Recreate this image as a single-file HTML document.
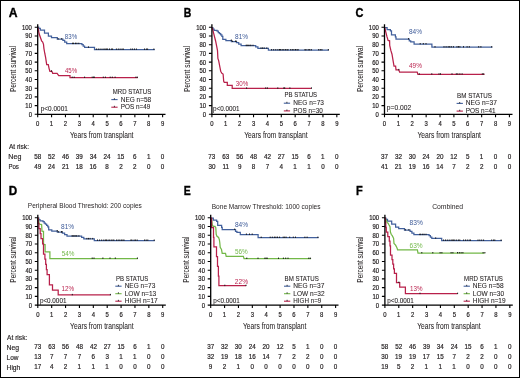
<!DOCTYPE html>
<html><head><meta charset="utf-8"><style>
html,body{margin:0;padding:0;background:#fff;width:520px;height:378px;overflow:hidden}
svg{display:block;will-change:transform}
text{font-family:"Liberation Sans", sans-serif}
</style></head><body>
<svg width="520" height="378" viewBox="0 0 520 378" font-family="Liberation Sans, sans-serif" fill="#231f20">
<rect x="0" y="0" width="520" height="378" fill="#fff"/>
<g>
<path d="M37.70,27.20 L38.70,27.20 L38.70,28.40 L40.30,28.40 L40.30,30.10 L44.50,30.10 L44.50,33.00 L48.40,33.00 L48.40,36.10 L51.50,36.10 L51.50,37.60 L57.30,37.60 L57.30,39.10 L62.90,39.10 L62.90,40.40 L64.70,40.40 L64.70,42.20 L66.70,42.20 L66.70,43.70 L81.90,43.70 L81.90,44.60 L83.20,44.60 L83.20,46.00 L84.60,46.00 L84.60,47.40 L94.50,47.40 L94.50,49.50 L154.80,49.50" fill="none" stroke="#42609c" stroke-width="1.25"/>
<path d="M58.10,38.10V39.50 M61.70,38.10V39.50 M72.60,42.70V44.10 M73.60,42.70V44.10 M75.50,42.70V44.10 M76.90,42.70V44.10 M78.80,42.70V44.10 M88.50,46.40V47.80 M96.40,48.50V49.90 M98.30,48.50V49.90 M100.10,48.50V49.90 M102.00,48.50V49.90 M103.90,48.50V49.90 M105.10,48.50V49.90 M106.40,48.50V49.90 M107.60,48.50V49.90 M109.50,48.50V49.90 M111.40,48.50V49.90 M112.60,48.50V49.90 M116.40,48.50V49.90 M118.30,48.50V49.90 M120.10,48.50V49.90 M122.00,48.50V49.90 M123.30,48.50V49.90 M130.80,48.50V49.90 M132.60,48.50V49.90 M134.50,48.50V49.90 M136.40,48.50V49.90 M144.50,48.50V49.90 M146.40,48.50V49.90 M147.60,48.50V49.90 M153.90,48.50V49.90" stroke="#1a1a1a" stroke-width="1.0" fill="none"/>
<path d="M37.70,27.70 L38.00,28.10 L39.20,34.00 L41.60,40.80 L42.70,42.00 L43.50,44.30 L43.90,48.30 L44.80,53.50 L45.60,57.40 L46.70,64.60 L48.30,64.60 L49.10,68.60 L49.90,71.30 L51.90,71.30 L52.70,73.30 L57.10,73.30 L58.70,75.50 L70.00,75.50 L70.00,77.60 L137.80,77.60" fill="none" stroke="#b8204a" stroke-width="1.25"/>
<path d="M51.50,70.30V71.70 M72.20,76.60V78.00 M74.20,76.60V78.00 M84.60,76.60V78.00 M92.20,76.60V78.00 M93.60,76.60V78.00 M94.30,76.60V78.00 M103.30,76.60V78.00 M105.40,76.60V78.00 M110.20,76.60V78.00 M112.30,76.60V78.00 M115.10,76.60V78.00 M135.90,76.60V78.00 M137.30,76.60V78.00" stroke="#1a1a1a" stroke-width="1.0" fill="none"/>
<path d="M111.30,99.60H117.60" stroke="#42609c" stroke-width="1.1"/>
<path d="M114.40,98.20V99.60" stroke="#111" stroke-width="0.8"/>
<path d="M111.30,107.20H117.60" stroke="#b8204a" stroke-width="1.1"/>
<path d="M114.40,105.80V107.20" stroke="#111" stroke-width="0.8"/>
<path d="M211.90,27.70 L212.90,27.70 L212.90,29.20 L214.10,29.20 L214.10,30.30 L217.10,30.30 L217.10,31.10 L218.30,31.10 L218.30,32.50 L219.50,32.50 L219.50,33.70 L220.70,33.70 L220.70,34.90 L221.90,34.90 L221.90,36.30 L222.80,36.30 L222.80,39.30 L225.90,39.30 L225.90,40.50 L231.40,40.50 L231.40,41.60 L236.50,41.60 L236.50,42.70 L238.70,42.70 L238.70,44.20 L241.10,44.20 L241.10,45.70 L255.70,45.70 L255.70,46.80 L257.90,46.80 L257.90,48.40 L268.40,48.40 L268.40,50.00 L328.90,50.00" fill="none" stroke="#42609c" stroke-width="1.25"/>
<path d="M231.30,39.50V40.90 M232.40,40.60V42.00 M235.60,40.60V42.00 M236.10,40.60V42.00 M246.20,44.70V46.10 M247.20,44.70V46.10 M248.30,44.70V46.10 M249.90,44.70V46.10 M250.90,44.70V46.10 M253.00,44.70V46.10 M261.00,47.40V48.80 M262.60,47.40V48.80 M264.20,47.40V48.80 M266.80,47.40V48.80 M271.60,49.00V50.40 M273.70,49.00V50.40 M275.80,49.00V50.40 M277.90,49.00V50.40 M279.50,49.00V50.40 M280.60,49.00V50.40 M282.20,49.00V50.40 M283.80,49.00V50.40 M285.40,49.00V50.40 M287.00,49.00V50.40 M288.00,49.00V50.40 M290.70,49.00V50.40 M292.30,49.00V50.40 M293.90,49.00V50.40 M295.50,49.00V50.40 M297.00,49.00V50.40 M298.10,49.00V50.40 M305.00,49.00V50.40 M306.00,49.00V50.40 M308.20,49.00V50.40 M309.70,49.00V50.40 M311.30,49.00V50.40 M318.70,49.00V50.40 M320.30,49.00V50.40 M321.90,49.00V50.40 M328.30,49.00V50.40" stroke="#1a1a1a" stroke-width="1.0" fill="none"/>
<path d="M211.90,27.70 L212.40,28.10 L213.60,33.20 L215.60,41.00 L216.70,46.40 L217.50,50.60 L217.90,58.50 L218.70,60.90 L219.90,67.20 L220.70,71.20 L221.90,73.20 L223.10,74.00 L223.70,81.30 L224.30,82.40 L227.30,82.40 L227.30,85.40 L232.20,85.40 L232.20,88.40 L311.00,88.40" fill="none" stroke="#b8204a" stroke-width="1.25"/>
<path d="M246.60,87.40V88.80 M265.70,87.40V88.80 M267.40,87.40V88.80 M277.80,87.40V88.80 M283.80,87.40V88.80 M284.70,87.40V88.80 M289.90,87.40V88.80 M311.50,87.40V88.80" stroke="#1a1a1a" stroke-width="1.0" fill="none"/>
<path d="M283.80,103.20H290.10" stroke="#42609c" stroke-width="1.1"/>
<path d="M286.90,101.80V103.20" stroke="#111" stroke-width="0.8"/>
<path d="M283.80,110.90H290.10" stroke="#b8204a" stroke-width="1.1"/>
<path d="M286.90,109.50V110.90" stroke="#111" stroke-width="0.8"/>
<path d="M384.50,27.70 L387.10,27.70 L387.10,29.70 L390.40,29.70 L390.40,30.80 L391.50,30.80 L391.50,34.80 L395.40,34.80 L395.40,36.80 L396.00,36.80 L396.00,39.10 L409.30,39.10 L409.30,40.80 L410.70,40.80 L410.70,41.80 L414.10,41.80 L414.10,44.00 L431.90,44.00 L431.90,47.10 L492.40,47.10" fill="none" stroke="#42609c" stroke-width="1.25"/>
<path d="M408.50,38.10V39.50 M420.20,43.00V44.40 M423.30,43.00V44.40 M426.00,43.00V44.40 M435.00,46.10V47.50 M444.00,46.10V47.50 M446.10,46.10V47.50 M448.20,46.10V47.50 M449.70,46.10V47.50 M451.30,46.10V47.50 M453.40,46.10V47.50 M457.00,46.10V47.50 M458.50,46.10V47.50 M459.90,46.10V47.50 M463.50,46.10V47.50 M467.10,46.10V47.50 M469.30,46.10V47.50 M478.70,46.10V47.50 M480.90,46.10V47.50 M491.70,46.10V47.50" stroke="#1a1a1a" stroke-width="1.0" fill="none"/>
<path d="M384.50,27.70 L384.90,28.10 L385.70,31.60 L386.90,36.40 L388.10,40.40 L389.60,40.80 L389.70,45.50 L390.90,50.70 L392.00,54.20 L393.20,61.40 L394.00,66.00 L395.60,66.00 L396.00,69.90 L398.80,69.90 L399.60,72.10 L417.20,72.10 L417.90,74.30 L484.50,74.30" fill="none" stroke="#b8204a" stroke-width="1.25"/>
<path d="M398.80,68.90V70.30 M419.30,73.30V74.70 M431.80,73.30V74.70 M439.00,73.30V74.70 M440.50,73.30V74.70 M452.00,73.30V74.70 M456.30,73.30V74.70 M457.80,73.30V74.70 M459.90,73.30V74.70 M462.10,73.30V74.70 M482.30,73.30V74.70 M483.70,73.30V74.70" stroke="#1a1a1a" stroke-width="1.0" fill="none"/>
<path d="M456.60,103.40H462.90" stroke="#42609c" stroke-width="1.1"/>
<path d="M459.70,102.00V103.40" stroke="#111" stroke-width="0.8"/>
<path d="M456.60,111.10H462.90" stroke="#b8204a" stroke-width="1.1"/>
<path d="M459.70,109.70V111.10" stroke="#111" stroke-width="0.8"/>
<path d="M37.80,218.20 L38.80,218.20 L38.80,219.70 L40.00,219.70 L40.00,220.80 L43.00,220.80 L43.00,221.60 L44.20,221.60 L44.20,223.00 L45.40,223.00 L45.40,224.20 L46.60,224.20 L46.60,225.40 L47.80,225.40 L47.80,226.80 L48.70,226.80 L48.70,229.80 L51.80,229.80 L51.80,231.00 L57.30,231.00 L57.30,232.10 L62.40,232.10 L62.40,233.20 L64.60,233.20 L64.60,234.70 L67.00,234.70 L67.00,236.20 L81.60,236.20 L81.60,237.30 L83.80,237.30 L83.80,238.90 L94.30,238.90 L94.30,240.50 L154.80,240.50" fill="none" stroke="#42609c" stroke-width="1.25"/>
<path d="M57.20,230.00V231.40 M58.30,231.10V232.50 M61.50,231.10V232.50 M62.00,231.10V232.50 M72.10,235.20V236.60 M73.10,235.20V236.60 M74.20,235.20V236.60 M75.80,235.20V236.60 M76.80,235.20V236.60 M78.90,235.20V236.60 M86.90,237.90V239.30 M88.50,237.90V239.30 M90.10,237.90V239.30 M92.70,237.90V239.30 M97.50,239.50V240.90 M99.60,239.50V240.90 M101.70,239.50V240.90 M103.80,239.50V240.90 M105.40,239.50V240.90 M106.50,239.50V240.90 M108.10,239.50V240.90 M109.70,239.50V240.90 M111.30,239.50V240.90 M112.90,239.50V240.90 M113.90,239.50V240.90 M116.60,239.50V240.90 M118.20,239.50V240.90 M119.80,239.50V240.90 M121.40,239.50V240.90 M122.90,239.50V240.90 M124.00,239.50V240.90 M130.90,239.50V240.90 M131.90,239.50V240.90 M134.10,239.50V240.90 M135.60,239.50V240.90 M137.20,239.50V240.90 M144.60,239.50V240.90 M146.20,239.50V240.90 M147.80,239.50V240.90 M154.20,239.50V240.90" stroke="#1a1a1a" stroke-width="1.0" fill="none"/>
<path d="M37.80,218.20 L38.10,219.30 L38.40,219.30 L39.20,224.00 L41.60,224.60 L42.00,231.20 L43.50,231.40 L43.50,244.50 L45.10,244.50 L45.10,251.80 L49.90,251.80 L49.90,258.50 L137.70,258.50" fill="none" stroke="#72b847" stroke-width="1.25"/>
<path d="M92.20,257.50V258.90 M94.00,257.50V258.90 M102.90,257.50V258.90 M110.00,257.50V258.90 M115.30,257.50V258.90 M137.40,257.50V258.90" stroke="#1a1a1a" stroke-width="1.0" fill="none"/>
<path d="M37.80,218.20 L38.20,218.20 L38.20,223.30 L38.90,223.30 L38.90,228.50 L40.20,228.50 L40.20,233.60 L41.00,233.60 L41.00,238.70 L42.60,238.70 L42.60,243.90 L43.50,243.90 L43.50,254.10 L44.90,254.10 L44.90,259.20 L45.70,259.20 L45.70,264.40 L46.40,264.40 L46.40,269.50 L47.10,269.50 L47.10,274.60 L49.40,274.60 L49.40,284.90 L52.50,284.90 L52.50,290.00 L58.20,290.00 L58.20,294.90 L110.50,294.90" fill="none" stroke="#b8204a" stroke-width="1.25"/>
<path d="M72.30,293.90V295.30 M110.40,293.90V295.30" stroke="#1a1a1a" stroke-width="1.0" fill="none"/>
<path d="M115.30,286.20H121.60" stroke="#42609c" stroke-width="1.1"/>
<path d="M118.40,284.80V286.20" stroke="#111" stroke-width="0.8"/>
<path d="M115.30,293.70H121.60" stroke="#72b847" stroke-width="1.1"/>
<path d="M118.40,292.30V293.70" stroke="#111" stroke-width="0.8"/>
<path d="M115.30,301.20H121.60" stroke="#b8204a" stroke-width="1.1"/>
<path d="M118.40,299.80V301.20" stroke="#111" stroke-width="0.8"/>
<path d="M210.70,218.20 L213.30,218.20 L213.30,220.20 L216.60,220.20 L216.60,221.30 L217.70,221.30 L217.70,225.30 L221.60,225.30 L221.60,227.30 L222.20,227.30 L222.20,229.60 L235.50,229.60 L235.50,231.30 L236.90,231.30 L236.90,232.30 L240.30,232.30 L240.30,234.50 L258.10,234.50 L258.10,237.60 L318.60,237.60" fill="none" stroke="#42609c" stroke-width="1.25"/>
<path d="M234.70,228.60V230.00 M246.40,233.50V234.90 M249.50,233.50V234.90 M252.20,233.50V234.90 M261.20,236.60V238.00 M270.20,236.60V238.00 M272.30,236.60V238.00 M274.40,236.60V238.00 M275.90,236.60V238.00 M277.50,236.60V238.00 M279.60,236.60V238.00 M283.20,236.60V238.00 M284.70,236.60V238.00 M286.10,236.60V238.00 M289.70,236.60V238.00 M293.30,236.60V238.00 M295.50,236.60V238.00 M304.90,236.60V238.00 M307.10,236.60V238.00 M317.90,236.60V238.00" stroke="#1a1a1a" stroke-width="1.0" fill="none"/>
<path d="M210.70,218.20 L211.50,218.90 L211.90,221.60 L212.30,224.80 L213.10,226.40 L215.00,226.40 L215.80,227.60 L216.20,234.30 L217.00,236.30 L218.60,237.50 L219.40,239.90 L219.80,242.70 L220.20,247.40 L221.50,249.40 L222.20,253.30 L225.50,253.30 L226.20,256.40 L243.40,256.40 L244.00,258.60 L311.10,258.60" fill="none" stroke="#72b847" stroke-width="1.25"/>
<path d="M246.80,257.60V259.00 M258.00,257.60V259.00 M264.90,257.60V259.00 M266.10,257.60V259.00 M267.20,257.60V259.00 M278.50,257.60V259.00 M283.40,257.60V259.00 M285.70,257.60V259.00 M288.00,257.60V259.00 M308.80,257.60V259.00 M310.30,257.60V259.00" stroke="#1a1a1a" stroke-width="1.0" fill="none"/>
<path d="M210.70,218.20 L211.60,218.20 L211.60,227.60 L213.50,227.60 L213.50,237.40 L213.90,237.40 L213.90,246.80 L216.50,246.80 L216.50,256.60 L217.50,256.60 L217.50,266.40 L218.40,266.40 L218.40,276.20 L218.90,276.20 L218.90,285.70 L246.00,285.70" fill="none" stroke="#b8204a" stroke-width="1.25"/>
<path d="M224.80,284.70V286.10 M246.00,284.70V286.10" stroke="#1a1a1a" stroke-width="1.0" fill="none"/>
<path d="M284.00,286.20H290.30" stroke="#42609c" stroke-width="1.1"/>
<path d="M287.10,284.80V286.20" stroke="#111" stroke-width="0.8"/>
<path d="M284.00,293.70H290.30" stroke="#72b847" stroke-width="1.1"/>
<path d="M287.10,292.30V293.70" stroke="#111" stroke-width="0.8"/>
<path d="M284.00,301.20H290.30" stroke="#b8204a" stroke-width="1.1"/>
<path d="M287.10,299.80V301.20" stroke="#111" stroke-width="0.8"/>
<path d="M384.90,218.20 L385.90,218.20 L385.90,219.40 L387.50,219.40 L387.50,221.10 L391.70,221.10 L391.70,224.00 L395.60,224.00 L395.60,227.10 L398.70,227.10 L398.70,228.60 L404.50,228.60 L404.50,230.10 L410.10,230.10 L410.10,231.40 L411.90,231.40 L411.90,233.20 L413.90,233.20 L413.90,234.70 L429.10,234.70 L429.10,235.60 L430.40,235.60 L430.40,237.00 L431.80,237.00 L431.80,238.40 L441.70,238.40 L441.70,240.50 L502.00,240.50" fill="none" stroke="#42609c" stroke-width="1.25"/>
<path d="M405.30,229.10V230.50 M408.90,229.10V230.50 M419.80,233.70V235.10 M420.80,233.70V235.10 M422.70,233.70V235.10 M424.10,233.70V235.10 M426.00,233.70V235.10 M435.70,237.40V238.80 M443.60,239.50V240.90 M445.50,239.50V240.90 M447.30,239.50V240.90 M449.20,239.50V240.90 M451.10,239.50V240.90 M452.30,239.50V240.90 M453.60,239.50V240.90 M454.80,239.50V240.90 M456.70,239.50V240.90 M458.60,239.50V240.90 M459.80,239.50V240.90 M463.60,239.50V240.90 M465.50,239.50V240.90 M467.30,239.50V240.90 M469.20,239.50V240.90 M470.50,239.50V240.90 M478.00,239.50V240.90 M479.80,239.50V240.90 M481.70,239.50V240.90 M483.60,239.50V240.90 M491.70,239.50V240.90 M493.60,239.50V240.90 M494.80,239.50V240.90 M501.10,239.50V240.90" stroke="#1a1a1a" stroke-width="1.0" fill="none"/>
<path d="M384.90,218.20 L385.70,219.30 L386.50,220.90 L387.30,222.80 L388.10,223.20 L388.90,224.80 L390.00,226.80 L390.40,232.00 L391.20,234.30 L392.40,235.90 L393.60,238.30 L394.00,243.50 L395.60,245.10 L396.80,247.40 L397.60,249.80 L417.40,249.80 L418.00,253.00 L484.50,253.00" fill="none" stroke="#72b847" stroke-width="1.25"/>
<path d="M421.80,252.00V253.40 M432.80,252.00V253.40 M440.10,252.00V253.40 M441.90,252.00V253.40 M451.10,252.00V253.40 M452.90,252.00V253.40 M457.50,252.00V253.40 M459.30,252.00V253.40 M461.10,252.00V253.40 M462.90,252.00V253.40 M483.10,252.00V253.40 M484.90,252.00V253.40" stroke="#1a1a1a" stroke-width="1.0" fill="none"/>
<path d="M384.90,218.20 L385.40,218.20 L385.40,222.80 L385.80,222.80 L385.80,227.40 L386.30,227.40 L386.30,232.00 L387.80,232.00 L387.80,236.60 L389.30,236.60 L389.30,241.20 L390.00,241.20 L390.00,245.80 L390.50,245.80 L390.50,255.00 L392.00,255.00 L392.00,259.60 L392.80,259.60 L392.80,264.20 L393.60,264.20 L393.60,268.80 L394.40,268.80 L394.40,273.40 L396.50,273.40 L396.50,282.60 L399.70,282.60 L399.70,287.20 L405.40,287.20 L405.40,293.70 L457.30,293.70" fill="none" stroke="#b8204a" stroke-width="1.25"/>
<path d="M398.90,281.60V283.00 M420.00,292.70V294.10 M457.60,292.70V294.10" stroke="#1a1a1a" stroke-width="1.0" fill="none"/>
<path d="M463.60,286.20H469.90" stroke="#42609c" stroke-width="1.1"/>
<path d="M466.70,284.80V286.20" stroke="#111" stroke-width="0.8"/>
<path d="M463.60,293.70H469.90" stroke="#72b847" stroke-width="1.1"/>
<path d="M466.70,292.30V293.70" stroke="#111" stroke-width="0.8"/>
<path d="M463.60,301.20H469.90" stroke="#b8204a" stroke-width="1.1"/>
<path d="M466.70,299.80V301.20" stroke="#111" stroke-width="0.8"/>
</g>
<path d="M37.70,24.30V114.30H165.50" fill="none" stroke="#000" stroke-width="1.3"/>
<path d="M34.70,114.30H37.70 M34.70,105.60H37.70 M34.70,96.90H37.70 M34.70,88.20H37.70 M34.70,79.50H37.70 M34.70,70.80H37.70 M34.70,62.10H37.70 M34.70,53.40H37.70 M34.70,44.70H37.70 M34.70,36.00H37.70 M34.70,27.30H37.70 M37.70,114.30V117.30 M51.58,114.30V117.30 M65.46,114.30V117.30 M79.34,114.30V117.30 M93.22,114.30V117.30 M107.10,114.30V117.30 M120.98,114.30V117.30 M134.86,114.30V117.30 M148.74,114.30V117.30 M162.62,114.30V117.30" stroke="#000" stroke-width="1.1" fill="none"/>
<path d="M211.90,24.30V114.30H339.80" fill="none" stroke="#000" stroke-width="1.3"/>
<path d="M208.90,114.30H211.90 M208.90,105.60H211.90 M208.90,96.90H211.90 M208.90,88.20H211.90 M208.90,79.50H211.90 M208.90,70.80H211.90 M208.90,62.10H211.90 M208.90,53.40H211.90 M208.90,44.70H211.90 M208.90,36.00H211.90 M208.90,27.30H211.90 M211.90,114.30V117.30 M225.78,114.30V117.30 M239.66,114.30V117.30 M253.54,114.30V117.30 M267.42,114.30V117.30 M281.30,114.30V117.30 M295.18,114.30V117.30 M309.06,114.30V117.30 M322.94,114.30V117.30 M336.82,114.30V117.30" stroke="#000" stroke-width="1.1" fill="none"/>
<path d="M384.50,24.30V114.30H512.50" fill="none" stroke="#000" stroke-width="1.3"/>
<path d="M381.50,114.30H384.50 M381.50,105.60H384.50 M381.50,96.90H384.50 M381.50,88.20H384.50 M381.50,79.50H384.50 M381.50,70.80H384.50 M381.50,62.10H384.50 M381.50,53.40H384.50 M381.50,44.70H384.50 M381.50,36.00H384.50 M381.50,27.30H384.50 M384.50,114.30V117.30 M398.38,114.30V117.30 M412.26,114.30V117.30 M426.14,114.30V117.30 M440.02,114.30V117.30 M453.90,114.30V117.30 M467.78,114.30V117.30 M481.66,114.30V117.30 M495.54,114.30V117.30 M509.42,114.30V117.30" stroke="#000" stroke-width="1.1" fill="none"/>
<path d="M37.80,214.80V305.10H165.80" fill="none" stroke="#000" stroke-width="1.3"/>
<path d="M34.80,305.10H37.80 M34.80,296.37H37.80 M34.80,287.64H37.80 M34.80,278.91H37.80 M34.80,270.18H37.80 M34.80,261.45H37.80 M34.80,252.72H37.80 M34.80,243.99H37.80 M34.80,235.26H37.80 M34.80,226.53H37.80 M34.80,217.80H37.80 M37.80,305.10V308.10 M51.68,305.10V308.10 M65.56,305.10V308.10 M79.44,305.10V308.10 M93.32,305.10V308.10 M107.20,305.10V308.10 M121.08,305.10V308.10 M134.96,305.10V308.10 M148.84,305.10V308.10 M162.72,305.10V308.10" stroke="#000" stroke-width="1.1" fill="none"/>
<path d="M210.70,214.80V305.10H338.50" fill="none" stroke="#000" stroke-width="1.3"/>
<path d="M207.70,305.10H210.70 M207.70,296.37H210.70 M207.70,287.64H210.70 M207.70,278.91H210.70 M207.70,270.18H210.70 M207.70,261.45H210.70 M207.70,252.72H210.70 M207.70,243.99H210.70 M207.70,235.26H210.70 M207.70,226.53H210.70 M207.70,217.80H210.70 M210.70,305.10V308.10 M224.58,305.10V308.10 M238.46,305.10V308.10 M252.34,305.10V308.10 M266.22,305.10V308.10 M280.10,305.10V308.10 M293.98,305.10V308.10 M307.86,305.10V308.10 M321.74,305.10V308.10 M335.62,305.10V308.10" stroke="#000" stroke-width="1.1" fill="none"/>
<path d="M384.90,214.80V305.10H512.80" fill="none" stroke="#000" stroke-width="1.3"/>
<path d="M381.90,305.10H384.90 M381.90,296.37H384.90 M381.90,287.64H384.90 M381.90,278.91H384.90 M381.90,270.18H384.90 M381.90,261.45H384.90 M381.90,252.72H384.90 M381.90,243.99H384.90 M381.90,235.26H384.90 M381.90,226.53H384.90 M381.90,217.80H384.90 M384.90,305.10V308.10 M398.78,305.10V308.10 M412.66,305.10V308.10 M426.54,305.10V308.10 M440.42,305.10V308.10 M454.30,305.10V308.10 M468.18,305.10V308.10 M482.06,305.10V308.10 M495.94,305.10V308.10 M509.82,305.10V308.10" stroke="#000" stroke-width="1.1" fill="none"/>
<text x="28.63" y="116.70" font-size="6.9" fill="#231f20" stroke="#231f20" stroke-width="0.2" textLength="3.30" lengthAdjust="spacingAndGlyphs">0</text>
<text x="25.33" y="108.00" font-size="6.9" fill="#231f20" stroke="#231f20" stroke-width="0.2" textLength="6.60" lengthAdjust="spacingAndGlyphs">10</text>
<text x="25.33" y="99.30" font-size="6.9" fill="#231f20" stroke="#231f20" stroke-width="0.2" textLength="6.60" lengthAdjust="spacingAndGlyphs">20</text>
<text x="25.33" y="90.60" font-size="6.9" fill="#231f20" stroke="#231f20" stroke-width="0.2" textLength="6.60" lengthAdjust="spacingAndGlyphs">30</text>
<text x="25.33" y="81.90" font-size="6.9" fill="#231f20" stroke="#231f20" stroke-width="0.2" textLength="6.60" lengthAdjust="spacingAndGlyphs">40</text>
<text x="25.33" y="73.20" font-size="6.9" fill="#231f20" stroke="#231f20" stroke-width="0.2" textLength="6.60" lengthAdjust="spacingAndGlyphs">50</text>
<text x="25.33" y="64.50" font-size="6.9" fill="#231f20" stroke="#231f20" stroke-width="0.2" textLength="6.60" lengthAdjust="spacingAndGlyphs">60</text>
<text x="25.33" y="55.80" font-size="6.9" fill="#231f20" stroke="#231f20" stroke-width="0.2" textLength="6.60" lengthAdjust="spacingAndGlyphs">70</text>
<text x="25.33" y="47.10" font-size="6.9" fill="#231f20" stroke="#231f20" stroke-width="0.2" textLength="6.60" lengthAdjust="spacingAndGlyphs">80</text>
<text x="25.33" y="38.40" font-size="6.9" fill="#231f20" stroke="#231f20" stroke-width="0.2" textLength="6.60" lengthAdjust="spacingAndGlyphs">90</text>
<text x="22.03" y="29.70" font-size="6.9" fill="#231f20" stroke="#231f20" stroke-width="0.2" textLength="9.90" lengthAdjust="spacingAndGlyphs">100</text>
<text x="36.05" y="126.00" font-size="6.9" fill="#231f20" stroke="#231f20" stroke-width="0.2" textLength="3.30" lengthAdjust="spacingAndGlyphs">0</text>
<text x="49.85" y="126.00" font-size="6.9" fill="#231f20" stroke="#231f20" stroke-width="0.2" textLength="3.30" lengthAdjust="spacingAndGlyphs">1</text>
<text x="63.81" y="126.00" font-size="6.9" fill="#231f20" stroke="#231f20" stroke-width="0.2" textLength="3.30" lengthAdjust="spacingAndGlyphs">2</text>
<text x="77.71" y="126.00" font-size="6.9" fill="#231f20" stroke="#231f20" stroke-width="0.2" textLength="3.30" lengthAdjust="spacingAndGlyphs">3</text>
<text x="91.59" y="126.00" font-size="6.9" fill="#231f20" stroke="#231f20" stroke-width="0.2" textLength="3.30" lengthAdjust="spacingAndGlyphs">4</text>
<text x="105.45" y="126.00" font-size="6.9" fill="#231f20" stroke="#231f20" stroke-width="0.2" textLength="3.30" lengthAdjust="spacingAndGlyphs">5</text>
<text x="119.31" y="126.00" font-size="6.9" fill="#231f20" stroke="#231f20" stroke-width="0.2" textLength="3.30" lengthAdjust="spacingAndGlyphs">6</text>
<text x="133.21" y="126.00" font-size="6.9" fill="#231f20" stroke="#231f20" stroke-width="0.2" textLength="3.30" lengthAdjust="spacingAndGlyphs">7</text>
<text x="147.09" y="126.00" font-size="6.9" fill="#231f20" stroke="#231f20" stroke-width="0.2" textLength="3.30" lengthAdjust="spacingAndGlyphs">8</text>
<text x="160.97" y="126.00" font-size="6.9" fill="#231f20" stroke="#231f20" stroke-width="0.2" textLength="3.30" lengthAdjust="spacingAndGlyphs">9</text>
<text x="70.00" y="137.80" font-size="8.6" fill="#231f20" stroke="#231f20" stroke-width="0.05" textLength="63.49" lengthAdjust="spacingAndGlyphs">Years from transplant</text>
<text transform="translate(15.90,92.03) rotate(-90)" font-size="9.0" stroke="#231f20" stroke-width="0.05" textLength="46.16" lengthAdjust="spacingAndGlyphs">Percent survival</text>
<text x="64.84" y="38.80" font-size="6.8" fill="#3d5a98" textLength="12.28" lengthAdjust="spacingAndGlyphs">83%</text>
<text x="64.97" y="72.90" font-size="6.8" fill="#bb2550" textLength="12.15" lengthAdjust="spacingAndGlyphs">45%</text>
<text x="40.79" y="110.80" font-size="6.6" fill="#231f20" stroke="#231f20" stroke-width="0.08" textLength="27.02" lengthAdjust="spacingAndGlyphs">p&lt;0.0001</text>
<text x="112.80" y="93.90" font-size="6.9" fill="#231f20" stroke="#231f20" stroke-width="0.08" textLength="38.36" lengthAdjust="spacingAndGlyphs">MRD STATUS</text>
<text x="120.77" y="101.50" font-size="6.9" fill="#231f20" stroke="#231f20" stroke-width="0.08" textLength="30.41" lengthAdjust="spacingAndGlyphs">NEG n=58</text>
<text x="120.78" y="109.10" font-size="6.9" fill="#231f20" stroke="#231f20" stroke-width="0.08" textLength="29.42" lengthAdjust="spacingAndGlyphs">POS n=49</text>
<text x="8.71" y="17.00" font-size="12" fill="#000" stroke="#000" stroke-width="0.35" font-weight="bold" textLength="8.81" lengthAdjust="spacingAndGlyphs">A</text>
<text x="202.83" y="116.70" font-size="6.9" fill="#231f20" stroke="#231f20" stroke-width="0.2" textLength="3.30" lengthAdjust="spacingAndGlyphs">0</text>
<text x="199.53" y="108.00" font-size="6.9" fill="#231f20" stroke="#231f20" stroke-width="0.2" textLength="6.60" lengthAdjust="spacingAndGlyphs">10</text>
<text x="199.53" y="99.30" font-size="6.9" fill="#231f20" stroke="#231f20" stroke-width="0.2" textLength="6.60" lengthAdjust="spacingAndGlyphs">20</text>
<text x="199.53" y="90.60" font-size="6.9" fill="#231f20" stroke="#231f20" stroke-width="0.2" textLength="6.60" lengthAdjust="spacingAndGlyphs">30</text>
<text x="199.53" y="81.90" font-size="6.9" fill="#231f20" stroke="#231f20" stroke-width="0.2" textLength="6.60" lengthAdjust="spacingAndGlyphs">40</text>
<text x="199.53" y="73.20" font-size="6.9" fill="#231f20" stroke="#231f20" stroke-width="0.2" textLength="6.60" lengthAdjust="spacingAndGlyphs">50</text>
<text x="199.53" y="64.50" font-size="6.9" fill="#231f20" stroke="#231f20" stroke-width="0.2" textLength="6.60" lengthAdjust="spacingAndGlyphs">60</text>
<text x="199.53" y="55.80" font-size="6.9" fill="#231f20" stroke="#231f20" stroke-width="0.2" textLength="6.60" lengthAdjust="spacingAndGlyphs">70</text>
<text x="199.53" y="47.10" font-size="6.9" fill="#231f20" stroke="#231f20" stroke-width="0.2" textLength="6.60" lengthAdjust="spacingAndGlyphs">80</text>
<text x="199.53" y="38.40" font-size="6.9" fill="#231f20" stroke="#231f20" stroke-width="0.2" textLength="6.60" lengthAdjust="spacingAndGlyphs">90</text>
<text x="196.23" y="29.70" font-size="6.9" fill="#231f20" stroke="#231f20" stroke-width="0.2" textLength="9.90" lengthAdjust="spacingAndGlyphs">100</text>
<text x="210.25" y="126.00" font-size="6.9" fill="#231f20" stroke="#231f20" stroke-width="0.2" textLength="3.30" lengthAdjust="spacingAndGlyphs">0</text>
<text x="224.05" y="126.00" font-size="6.9" fill="#231f20" stroke="#231f20" stroke-width="0.2" textLength="3.30" lengthAdjust="spacingAndGlyphs">1</text>
<text x="238.01" y="126.00" font-size="6.9" fill="#231f20" stroke="#231f20" stroke-width="0.2" textLength="3.30" lengthAdjust="spacingAndGlyphs">2</text>
<text x="251.91" y="126.00" font-size="6.9" fill="#231f20" stroke="#231f20" stroke-width="0.2" textLength="3.30" lengthAdjust="spacingAndGlyphs">3</text>
<text x="265.79" y="126.00" font-size="6.9" fill="#231f20" stroke="#231f20" stroke-width="0.2" textLength="3.30" lengthAdjust="spacingAndGlyphs">4</text>
<text x="279.65" y="126.00" font-size="6.9" fill="#231f20" stroke="#231f20" stroke-width="0.2" textLength="3.30" lengthAdjust="spacingAndGlyphs">5</text>
<text x="293.51" y="126.00" font-size="6.9" fill="#231f20" stroke="#231f20" stroke-width="0.2" textLength="3.30" lengthAdjust="spacingAndGlyphs">6</text>
<text x="307.41" y="126.00" font-size="6.9" fill="#231f20" stroke="#231f20" stroke-width="0.2" textLength="3.30" lengthAdjust="spacingAndGlyphs">7</text>
<text x="321.29" y="126.00" font-size="6.9" fill="#231f20" stroke="#231f20" stroke-width="0.2" textLength="3.30" lengthAdjust="spacingAndGlyphs">8</text>
<text x="335.17" y="126.00" font-size="6.9" fill="#231f20" stroke="#231f20" stroke-width="0.2" textLength="3.30" lengthAdjust="spacingAndGlyphs">9</text>
<text x="244.20" y="137.80" font-size="8.6" fill="#231f20" stroke="#231f20" stroke-width="0.05" textLength="63.49" lengthAdjust="spacingAndGlyphs">Years from transplant</text>
<text transform="translate(190.10,92.03) rotate(-90)" font-size="9.0" stroke="#231f20" stroke-width="0.05" textLength="46.16" lengthAdjust="spacingAndGlyphs">Percent survival</text>
<text x="235.02" y="39.40" font-size="7.0" fill="#3d5a98" textLength="13.01" lengthAdjust="spacingAndGlyphs">81%</text>
<text x="235.86" y="85.90" font-size="7.0" fill="#bb2550" textLength="12.46" lengthAdjust="spacingAndGlyphs">30%</text>
<text x="213.10" y="110.60" font-size="6.6" fill="#231f20" stroke="#231f20" stroke-width="0.08" textLength="26.51" lengthAdjust="spacingAndGlyphs">p&lt;0.0001</text>
<text x="284.61" y="97.40" font-size="6.9" fill="#231f20" stroke="#231f20" stroke-width="0.08" textLength="32.36" lengthAdjust="spacingAndGlyphs">PB STATUS</text>
<text x="293.27" y="105.10" font-size="6.9" fill="#231f20" stroke="#231f20" stroke-width="0.08" textLength="30.62" lengthAdjust="spacingAndGlyphs">NEG n=73</text>
<text x="293.28" y="112.80" font-size="6.9" fill="#231f20" stroke="#231f20" stroke-width="0.08" textLength="29.56" lengthAdjust="spacingAndGlyphs">POS n=30</text>
<text x="183.71" y="16.70" font-size="12" fill="#000" stroke="#000" stroke-width="0.35" font-weight="bold" textLength="7.56" lengthAdjust="spacingAndGlyphs">B</text>
<text x="375.43" y="116.70" font-size="6.9" fill="#231f20" stroke="#231f20" stroke-width="0.2" textLength="3.30" lengthAdjust="spacingAndGlyphs">0</text>
<text x="372.13" y="108.00" font-size="6.9" fill="#231f20" stroke="#231f20" stroke-width="0.2" textLength="6.60" lengthAdjust="spacingAndGlyphs">10</text>
<text x="372.13" y="99.30" font-size="6.9" fill="#231f20" stroke="#231f20" stroke-width="0.2" textLength="6.60" lengthAdjust="spacingAndGlyphs">20</text>
<text x="372.13" y="90.60" font-size="6.9" fill="#231f20" stroke="#231f20" stroke-width="0.2" textLength="6.60" lengthAdjust="spacingAndGlyphs">30</text>
<text x="372.13" y="81.90" font-size="6.9" fill="#231f20" stroke="#231f20" stroke-width="0.2" textLength="6.60" lengthAdjust="spacingAndGlyphs">40</text>
<text x="372.13" y="73.20" font-size="6.9" fill="#231f20" stroke="#231f20" stroke-width="0.2" textLength="6.60" lengthAdjust="spacingAndGlyphs">50</text>
<text x="372.13" y="64.50" font-size="6.9" fill="#231f20" stroke="#231f20" stroke-width="0.2" textLength="6.60" lengthAdjust="spacingAndGlyphs">60</text>
<text x="372.13" y="55.80" font-size="6.9" fill="#231f20" stroke="#231f20" stroke-width="0.2" textLength="6.60" lengthAdjust="spacingAndGlyphs">70</text>
<text x="372.13" y="47.10" font-size="6.9" fill="#231f20" stroke="#231f20" stroke-width="0.2" textLength="6.60" lengthAdjust="spacingAndGlyphs">80</text>
<text x="372.13" y="38.40" font-size="6.9" fill="#231f20" stroke="#231f20" stroke-width="0.2" textLength="6.60" lengthAdjust="spacingAndGlyphs">90</text>
<text x="368.83" y="29.70" font-size="6.9" fill="#231f20" stroke="#231f20" stroke-width="0.2" textLength="9.90" lengthAdjust="spacingAndGlyphs">100</text>
<text x="382.85" y="126.00" font-size="6.9" fill="#231f20" stroke="#231f20" stroke-width="0.2" textLength="3.30" lengthAdjust="spacingAndGlyphs">0</text>
<text x="396.65" y="126.00" font-size="6.9" fill="#231f20" stroke="#231f20" stroke-width="0.2" textLength="3.30" lengthAdjust="spacingAndGlyphs">1</text>
<text x="410.61" y="126.00" font-size="6.9" fill="#231f20" stroke="#231f20" stroke-width="0.2" textLength="3.30" lengthAdjust="spacingAndGlyphs">2</text>
<text x="424.51" y="126.00" font-size="6.9" fill="#231f20" stroke="#231f20" stroke-width="0.2" textLength="3.30" lengthAdjust="spacingAndGlyphs">3</text>
<text x="438.39" y="126.00" font-size="6.9" fill="#231f20" stroke="#231f20" stroke-width="0.2" textLength="3.30" lengthAdjust="spacingAndGlyphs">4</text>
<text x="452.25" y="126.00" font-size="6.9" fill="#231f20" stroke="#231f20" stroke-width="0.2" textLength="3.30" lengthAdjust="spacingAndGlyphs">5</text>
<text x="466.11" y="126.00" font-size="6.9" fill="#231f20" stroke="#231f20" stroke-width="0.2" textLength="3.30" lengthAdjust="spacingAndGlyphs">6</text>
<text x="480.01" y="126.00" font-size="6.9" fill="#231f20" stroke="#231f20" stroke-width="0.2" textLength="3.30" lengthAdjust="spacingAndGlyphs">7</text>
<text x="493.89" y="126.00" font-size="6.9" fill="#231f20" stroke="#231f20" stroke-width="0.2" textLength="3.30" lengthAdjust="spacingAndGlyphs">8</text>
<text x="507.77" y="126.00" font-size="6.9" fill="#231f20" stroke="#231f20" stroke-width="0.2" textLength="3.30" lengthAdjust="spacingAndGlyphs">9</text>
<text x="417.50" y="137.80" font-size="8.6" fill="#231f20" stroke="#231f20" stroke-width="0.05" textLength="63.49" lengthAdjust="spacingAndGlyphs">Years from transplant</text>
<text transform="translate(362.70,92.03) rotate(-90)" font-size="9.0" stroke="#231f20" stroke-width="0.05" textLength="46.16" lengthAdjust="spacingAndGlyphs">Percent survival</text>
<text x="408.92" y="33.80" font-size="6.8" fill="#3d5a98" textLength="13.01" lengthAdjust="spacingAndGlyphs">84%</text>
<text x="409.06" y="67.80" font-size="6.8" fill="#bb2550" textLength="12.87" lengthAdjust="spacingAndGlyphs">49%</text>
<text x="386.87" y="110.00" font-size="6.6" fill="#231f20" stroke="#231f20" stroke-width="0.08" textLength="24.37" lengthAdjust="spacingAndGlyphs">p=0.002</text>
<text x="457.09" y="97.60" font-size="6.9" fill="#231f20" stroke="#231f20" stroke-width="0.08" textLength="34.79" lengthAdjust="spacingAndGlyphs">BM STATUS</text>
<text x="465.76" y="105.30" font-size="6.9" fill="#231f20" stroke="#231f20" stroke-width="0.08" textLength="31.08" lengthAdjust="spacingAndGlyphs">NEG n=37</text>
<text x="465.77" y="113.00" font-size="6.9" fill="#231f20" stroke="#231f20" stroke-width="0.08" textLength="29.84" lengthAdjust="spacingAndGlyphs">POS n=41</text>
<text x="355.55" y="16.60" font-size="12" fill="#000" stroke="#000" stroke-width="0.35" font-weight="bold" textLength="7.95" lengthAdjust="spacingAndGlyphs">C</text>
<text x="8.89" y="148.60" font-size="7.0" fill="#231f20" stroke="#231f20" stroke-width="0.16" textLength="20.11" lengthAdjust="spacingAndGlyphs">At risk:</text>
<text x="8.32" y="158.50" font-size="7.0" fill="#231f20" stroke="#231f20" stroke-width="0.16" textLength="13.04" lengthAdjust="spacingAndGlyphs">Neg</text>
<text x="8.40" y="168.50" font-size="7.0" fill="#231f20" stroke="#231f20" stroke-width="0.16" textLength="10.52" lengthAdjust="spacingAndGlyphs">Pos</text>
<text x="34.21" y="158.50" font-size="7.0" fill="#231f20" stroke="#231f20" stroke-width="0.2" textLength="7.01" lengthAdjust="spacingAndGlyphs">58</text>
<text x="48.11" y="158.50" font-size="7.0" fill="#231f20" stroke="#231f20" stroke-width="0.2" textLength="7.01" lengthAdjust="spacingAndGlyphs">52</text>
<text x="62.02" y="158.50" font-size="7.0" fill="#231f20" stroke="#231f20" stroke-width="0.2" textLength="7.01" lengthAdjust="spacingAndGlyphs">46</text>
<text x="75.87" y="158.50" font-size="7.0" fill="#231f20" stroke="#231f20" stroke-width="0.2" textLength="7.01" lengthAdjust="spacingAndGlyphs">39</text>
<text x="89.69" y="158.50" font-size="7.0" fill="#231f20" stroke="#231f20" stroke-width="0.2" textLength="7.01" lengthAdjust="spacingAndGlyphs">34</text>
<text x="103.53" y="158.50" font-size="7.0" fill="#231f20" stroke="#231f20" stroke-width="0.2" textLength="7.01" lengthAdjust="spacingAndGlyphs">24</text>
<text x="117.37" y="158.50" font-size="7.0" fill="#231f20" stroke="#231f20" stroke-width="0.2" textLength="7.01" lengthAdjust="spacingAndGlyphs">15</text>
<text x="133.09" y="158.50" font-size="7.0" fill="#231f20" stroke="#231f20" stroke-width="0.2" textLength="3.50" lengthAdjust="spacingAndGlyphs">6</text>
<text x="146.90" y="158.50" font-size="7.0" fill="#231f20" stroke="#231f20" stroke-width="0.2" textLength="3.50" lengthAdjust="spacingAndGlyphs">1</text>
<text x="160.87" y="158.50" font-size="7.0" fill="#231f20" stroke="#231f20" stroke-width="0.2" textLength="3.50" lengthAdjust="spacingAndGlyphs">0</text>
<text x="34.28" y="168.50" font-size="7.0" fill="#231f20" stroke="#231f20" stroke-width="0.2" textLength="7.01" lengthAdjust="spacingAndGlyphs">49</text>
<text x="48.01" y="168.50" font-size="7.0" fill="#231f20" stroke="#231f20" stroke-width="0.2" textLength="7.01" lengthAdjust="spacingAndGlyphs">24</text>
<text x="61.95" y="168.50" font-size="7.0" fill="#231f20" stroke="#231f20" stroke-width="0.2" textLength="7.01" lengthAdjust="spacingAndGlyphs">21</text>
<text x="75.73" y="168.50" font-size="7.0" fill="#231f20" stroke="#231f20" stroke-width="0.2" textLength="7.01" lengthAdjust="spacingAndGlyphs">18</text>
<text x="89.61" y="168.50" font-size="7.0" fill="#231f20" stroke="#231f20" stroke-width="0.2" textLength="7.01" lengthAdjust="spacingAndGlyphs">16</text>
<text x="105.35" y="168.50" font-size="7.0" fill="#231f20" stroke="#231f20" stroke-width="0.2" textLength="3.50" lengthAdjust="spacingAndGlyphs">8</text>
<text x="119.23" y="168.50" font-size="7.0" fill="#231f20" stroke="#231f20" stroke-width="0.2" textLength="3.50" lengthAdjust="spacingAndGlyphs">2</text>
<text x="133.11" y="168.50" font-size="7.0" fill="#231f20" stroke="#231f20" stroke-width="0.2" textLength="3.50" lengthAdjust="spacingAndGlyphs">2</text>
<text x="146.99" y="168.50" font-size="7.0" fill="#231f20" stroke="#231f20" stroke-width="0.2" textLength="3.50" lengthAdjust="spacingAndGlyphs">0</text>
<text x="160.87" y="168.50" font-size="7.0" fill="#231f20" stroke="#231f20" stroke-width="0.2" textLength="3.50" lengthAdjust="spacingAndGlyphs">0</text>
<text x="208.37" y="158.50" font-size="7.0" fill="#231f20" stroke="#231f20" stroke-width="0.2" textLength="7.01" lengthAdjust="spacingAndGlyphs">73</text>
<text x="222.26" y="158.50" font-size="7.0" fill="#231f20" stroke="#231f20" stroke-width="0.2" textLength="7.01" lengthAdjust="spacingAndGlyphs">63</text>
<text x="236.17" y="158.50" font-size="7.0" fill="#231f20" stroke="#231f20" stroke-width="0.2" textLength="7.01" lengthAdjust="spacingAndGlyphs">56</text>
<text x="250.10" y="158.50" font-size="7.0" fill="#231f20" stroke="#231f20" stroke-width="0.2" textLength="7.01" lengthAdjust="spacingAndGlyphs">48</text>
<text x="264.01" y="158.50" font-size="7.0" fill="#231f20" stroke="#231f20" stroke-width="0.2" textLength="7.01" lengthAdjust="spacingAndGlyphs">42</text>
<text x="277.80" y="158.50" font-size="7.0" fill="#231f20" stroke="#231f20" stroke-width="0.2" textLength="7.01" lengthAdjust="spacingAndGlyphs">27</text>
<text x="291.57" y="158.50" font-size="7.0" fill="#231f20" stroke="#231f20" stroke-width="0.2" textLength="7.01" lengthAdjust="spacingAndGlyphs">15</text>
<text x="307.29" y="158.50" font-size="7.0" fill="#231f20" stroke="#231f20" stroke-width="0.2" textLength="3.50" lengthAdjust="spacingAndGlyphs">6</text>
<text x="321.10" y="158.50" font-size="7.0" fill="#231f20" stroke="#231f20" stroke-width="0.2" textLength="3.50" lengthAdjust="spacingAndGlyphs">1</text>
<text x="335.07" y="158.50" font-size="7.0" fill="#231f20" stroke="#231f20" stroke-width="0.2" textLength="3.50" lengthAdjust="spacingAndGlyphs">0</text>
<text x="208.40" y="168.50" font-size="7.0" fill="#231f20" stroke="#231f20" stroke-width="0.2" textLength="7.01" lengthAdjust="spacingAndGlyphs">30</text>
<text x="222.42" y="168.50" font-size="7.0" fill="#231f20" stroke="#231f20" stroke-width="0.2" textLength="6.54" lengthAdjust="spacingAndGlyphs">11</text>
<text x="237.91" y="168.50" font-size="7.0" fill="#231f20" stroke="#231f20" stroke-width="0.2" textLength="3.50" lengthAdjust="spacingAndGlyphs">9</text>
<text x="251.79" y="168.50" font-size="7.0" fill="#231f20" stroke="#231f20" stroke-width="0.2" textLength="3.50" lengthAdjust="spacingAndGlyphs">8</text>
<text x="265.67" y="168.50" font-size="7.0" fill="#231f20" stroke="#231f20" stroke-width="0.2" textLength="3.50" lengthAdjust="spacingAndGlyphs">7</text>
<text x="279.57" y="168.50" font-size="7.0" fill="#231f20" stroke="#231f20" stroke-width="0.2" textLength="3.50" lengthAdjust="spacingAndGlyphs">4</text>
<text x="293.34" y="168.50" font-size="7.0" fill="#231f20" stroke="#231f20" stroke-width="0.2" textLength="3.50" lengthAdjust="spacingAndGlyphs">1</text>
<text x="307.22" y="168.50" font-size="7.0" fill="#231f20" stroke="#231f20" stroke-width="0.2" textLength="3.50" lengthAdjust="spacingAndGlyphs">1</text>
<text x="321.19" y="168.50" font-size="7.0" fill="#231f20" stroke="#231f20" stroke-width="0.2" textLength="3.50" lengthAdjust="spacingAndGlyphs">0</text>
<text x="335.07" y="168.50" font-size="7.0" fill="#231f20" stroke="#231f20" stroke-width="0.2" textLength="3.50" lengthAdjust="spacingAndGlyphs">0</text>
<text x="381.04" y="158.50" font-size="7.0" fill="#231f20" stroke="#231f20" stroke-width="0.2" textLength="7.01" lengthAdjust="spacingAndGlyphs">37</text>
<text x="394.92" y="158.50" font-size="7.0" fill="#231f20" stroke="#231f20" stroke-width="0.2" textLength="7.01" lengthAdjust="spacingAndGlyphs">32</text>
<text x="408.76" y="158.50" font-size="7.0" fill="#231f20" stroke="#231f20" stroke-width="0.2" textLength="7.01" lengthAdjust="spacingAndGlyphs">30</text>
<text x="422.57" y="158.50" font-size="7.0" fill="#231f20" stroke="#231f20" stroke-width="0.2" textLength="7.01" lengthAdjust="spacingAndGlyphs">24</text>
<text x="436.48" y="158.50" font-size="7.0" fill="#231f20" stroke="#231f20" stroke-width="0.2" textLength="7.01" lengthAdjust="spacingAndGlyphs">20</text>
<text x="450.32" y="158.50" font-size="7.0" fill="#231f20" stroke="#231f20" stroke-width="0.2" textLength="7.01" lengthAdjust="spacingAndGlyphs">12</text>
<text x="466.03" y="158.50" font-size="7.0" fill="#231f20" stroke="#231f20" stroke-width="0.2" textLength="3.50" lengthAdjust="spacingAndGlyphs">5</text>
<text x="479.82" y="158.50" font-size="7.0" fill="#231f20" stroke="#231f20" stroke-width="0.2" textLength="3.50" lengthAdjust="spacingAndGlyphs">1</text>
<text x="493.79" y="158.50" font-size="7.0" fill="#231f20" stroke="#231f20" stroke-width="0.2" textLength="3.50" lengthAdjust="spacingAndGlyphs">0</text>
<text x="507.67" y="158.50" font-size="7.0" fill="#231f20" stroke="#231f20" stroke-width="0.2" textLength="3.50" lengthAdjust="spacingAndGlyphs">0</text>
<text x="381.08" y="168.50" font-size="7.0" fill="#231f20" stroke="#231f20" stroke-width="0.2" textLength="7.01" lengthAdjust="spacingAndGlyphs">41</text>
<text x="394.87" y="168.50" font-size="7.0" fill="#231f20" stroke="#231f20" stroke-width="0.2" textLength="7.01" lengthAdjust="spacingAndGlyphs">21</text>
<text x="408.67" y="168.50" font-size="7.0" fill="#231f20" stroke="#231f20" stroke-width="0.2" textLength="7.01" lengthAdjust="spacingAndGlyphs">19</text>
<text x="422.53" y="168.50" font-size="7.0" fill="#231f20" stroke="#231f20" stroke-width="0.2" textLength="7.01" lengthAdjust="spacingAndGlyphs">16</text>
<text x="436.37" y="168.50" font-size="7.0" fill="#231f20" stroke="#231f20" stroke-width="0.2" textLength="7.01" lengthAdjust="spacingAndGlyphs">14</text>
<text x="452.15" y="168.50" font-size="7.0" fill="#231f20" stroke="#231f20" stroke-width="0.2" textLength="3.50" lengthAdjust="spacingAndGlyphs">7</text>
<text x="466.03" y="168.50" font-size="7.0" fill="#231f20" stroke="#231f20" stroke-width="0.2" textLength="3.50" lengthAdjust="spacingAndGlyphs">2</text>
<text x="479.91" y="168.50" font-size="7.0" fill="#231f20" stroke="#231f20" stroke-width="0.2" textLength="3.50" lengthAdjust="spacingAndGlyphs">2</text>
<text x="493.79" y="168.50" font-size="7.0" fill="#231f20" stroke="#231f20" stroke-width="0.2" textLength="3.50" lengthAdjust="spacingAndGlyphs">0</text>
<text x="507.67" y="168.50" font-size="7.0" fill="#231f20" stroke="#231f20" stroke-width="0.2" textLength="3.50" lengthAdjust="spacingAndGlyphs">0</text>
<text x="28.73" y="307.50" font-size="6.9" fill="#231f20" stroke="#231f20" stroke-width="0.2" textLength="3.30" lengthAdjust="spacingAndGlyphs">0</text>
<text x="25.43" y="298.77" font-size="6.9" fill="#231f20" stroke="#231f20" stroke-width="0.2" textLength="6.60" lengthAdjust="spacingAndGlyphs">10</text>
<text x="25.43" y="290.04" font-size="6.9" fill="#231f20" stroke="#231f20" stroke-width="0.2" textLength="6.60" lengthAdjust="spacingAndGlyphs">20</text>
<text x="25.43" y="281.31" font-size="6.9" fill="#231f20" stroke="#231f20" stroke-width="0.2" textLength="6.60" lengthAdjust="spacingAndGlyphs">30</text>
<text x="25.43" y="272.58" font-size="6.9" fill="#231f20" stroke="#231f20" stroke-width="0.2" textLength="6.60" lengthAdjust="spacingAndGlyphs">40</text>
<text x="25.43" y="263.85" font-size="6.9" fill="#231f20" stroke="#231f20" stroke-width="0.2" textLength="6.60" lengthAdjust="spacingAndGlyphs">50</text>
<text x="25.43" y="255.12" font-size="6.9" fill="#231f20" stroke="#231f20" stroke-width="0.2" textLength="6.60" lengthAdjust="spacingAndGlyphs">60</text>
<text x="25.43" y="246.39" font-size="6.9" fill="#231f20" stroke="#231f20" stroke-width="0.2" textLength="6.60" lengthAdjust="spacingAndGlyphs">70</text>
<text x="25.43" y="237.66" font-size="6.9" fill="#231f20" stroke="#231f20" stroke-width="0.2" textLength="6.60" lengthAdjust="spacingAndGlyphs">80</text>
<text x="25.43" y="228.93" font-size="6.9" fill="#231f20" stroke="#231f20" stroke-width="0.2" textLength="6.60" lengthAdjust="spacingAndGlyphs">90</text>
<text x="22.13" y="220.20" font-size="6.9" fill="#231f20" stroke="#231f20" stroke-width="0.2" textLength="9.90" lengthAdjust="spacingAndGlyphs">100</text>
<text x="36.15" y="316.80" font-size="6.9" fill="#231f20" stroke="#231f20" stroke-width="0.2" textLength="3.30" lengthAdjust="spacingAndGlyphs">0</text>
<text x="49.95" y="316.80" font-size="6.9" fill="#231f20" stroke="#231f20" stroke-width="0.2" textLength="3.30" lengthAdjust="spacingAndGlyphs">1</text>
<text x="63.91" y="316.80" font-size="6.9" fill="#231f20" stroke="#231f20" stroke-width="0.2" textLength="3.30" lengthAdjust="spacingAndGlyphs">2</text>
<text x="77.81" y="316.80" font-size="6.9" fill="#231f20" stroke="#231f20" stroke-width="0.2" textLength="3.30" lengthAdjust="spacingAndGlyphs">3</text>
<text x="91.69" y="316.80" font-size="6.9" fill="#231f20" stroke="#231f20" stroke-width="0.2" textLength="3.30" lengthAdjust="spacingAndGlyphs">4</text>
<text x="105.55" y="316.80" font-size="6.9" fill="#231f20" stroke="#231f20" stroke-width="0.2" textLength="3.30" lengthAdjust="spacingAndGlyphs">5</text>
<text x="119.41" y="316.80" font-size="6.9" fill="#231f20" stroke="#231f20" stroke-width="0.2" textLength="3.30" lengthAdjust="spacingAndGlyphs">6</text>
<text x="133.31" y="316.80" font-size="6.9" fill="#231f20" stroke="#231f20" stroke-width="0.2" textLength="3.30" lengthAdjust="spacingAndGlyphs">7</text>
<text x="147.19" y="316.80" font-size="6.9" fill="#231f20" stroke="#231f20" stroke-width="0.2" textLength="3.30" lengthAdjust="spacingAndGlyphs">8</text>
<text x="161.07" y="316.80" font-size="6.9" fill="#231f20" stroke="#231f20" stroke-width="0.2" textLength="3.30" lengthAdjust="spacingAndGlyphs">9</text>
<text x="70.10" y="328.60" font-size="8.6" fill="#231f20" stroke="#231f20" stroke-width="0.05" textLength="63.49" lengthAdjust="spacingAndGlyphs">Years from transplant</text>
<text transform="translate(16.00,282.68) rotate(-90)" font-size="9.0" stroke="#231f20" stroke-width="0.05" textLength="46.16" lengthAdjust="spacingAndGlyphs">Percent survival</text>
<text x="61.02" y="228.80" font-size="7.0" fill="#3d5a98" textLength="13.11" lengthAdjust="spacingAndGlyphs">81%</text>
<text x="61.64" y="255.70" font-size="7.0" fill="#74b94c" textLength="12.78" lengthAdjust="spacingAndGlyphs">54%</text>
<text x="61.62" y="290.90" font-size="6.8" fill="#bb2550" textLength="12.60" lengthAdjust="spacingAndGlyphs">12%</text>
<text x="39.90" y="302.80" font-size="6.6" fill="#231f20" stroke="#231f20" stroke-width="0.08" textLength="26.51" lengthAdjust="spacingAndGlyphs">p&lt;0.0001</text>
<text x="116.01" y="280.60" font-size="6.9" fill="#231f20" stroke="#231f20" stroke-width="0.08" textLength="32.36" lengthAdjust="spacingAndGlyphs">PB STATUS</text>
<text x="124.67" y="288.10" font-size="6.9" fill="#231f20" stroke="#231f20" stroke-width="0.08" textLength="30.62" lengthAdjust="spacingAndGlyphs">NEG n=73</text>
<text x="124.66" y="295.60" font-size="6.9" fill="#231f20" stroke="#231f20" stroke-width="0.08" textLength="31.62" lengthAdjust="spacingAndGlyphs">LOW n=13</text>
<text x="124.66" y="303.10" font-size="6.9" fill="#231f20" stroke="#231f20" stroke-width="0.08" textLength="33.07" lengthAdjust="spacingAndGlyphs">HIGH n=17</text>
<text x="27.87" y="208.40" font-size="6.6" fill="#231f20" textLength="113.97" lengthAdjust="spacingAndGlyphs">Peripheral Blood Threshold: 200 copies</text>
<text x="8.63" y="195.20" font-size="12" fill="#000" stroke="#000" stroke-width="0.35" font-weight="bold" textLength="8.45" lengthAdjust="spacingAndGlyphs">D</text>
<text x="201.63" y="307.50" font-size="6.9" fill="#231f20" stroke="#231f20" stroke-width="0.2" textLength="3.30" lengthAdjust="spacingAndGlyphs">0</text>
<text x="198.33" y="298.77" font-size="6.9" fill="#231f20" stroke="#231f20" stroke-width="0.2" textLength="6.60" lengthAdjust="spacingAndGlyphs">10</text>
<text x="198.33" y="290.04" font-size="6.9" fill="#231f20" stroke="#231f20" stroke-width="0.2" textLength="6.60" lengthAdjust="spacingAndGlyphs">20</text>
<text x="198.33" y="281.31" font-size="6.9" fill="#231f20" stroke="#231f20" stroke-width="0.2" textLength="6.60" lengthAdjust="spacingAndGlyphs">30</text>
<text x="198.33" y="272.58" font-size="6.9" fill="#231f20" stroke="#231f20" stroke-width="0.2" textLength="6.60" lengthAdjust="spacingAndGlyphs">40</text>
<text x="198.33" y="263.85" font-size="6.9" fill="#231f20" stroke="#231f20" stroke-width="0.2" textLength="6.60" lengthAdjust="spacingAndGlyphs">50</text>
<text x="198.33" y="255.12" font-size="6.9" fill="#231f20" stroke="#231f20" stroke-width="0.2" textLength="6.60" lengthAdjust="spacingAndGlyphs">60</text>
<text x="198.33" y="246.39" font-size="6.9" fill="#231f20" stroke="#231f20" stroke-width="0.2" textLength="6.60" lengthAdjust="spacingAndGlyphs">70</text>
<text x="198.33" y="237.66" font-size="6.9" fill="#231f20" stroke="#231f20" stroke-width="0.2" textLength="6.60" lengthAdjust="spacingAndGlyphs">80</text>
<text x="198.33" y="228.93" font-size="6.9" fill="#231f20" stroke="#231f20" stroke-width="0.2" textLength="6.60" lengthAdjust="spacingAndGlyphs">90</text>
<text x="195.03" y="220.20" font-size="6.9" fill="#231f20" stroke="#231f20" stroke-width="0.2" textLength="9.90" lengthAdjust="spacingAndGlyphs">100</text>
<text x="209.05" y="316.80" font-size="6.9" fill="#231f20" stroke="#231f20" stroke-width="0.2" textLength="3.30" lengthAdjust="spacingAndGlyphs">0</text>
<text x="222.85" y="316.80" font-size="6.9" fill="#231f20" stroke="#231f20" stroke-width="0.2" textLength="3.30" lengthAdjust="spacingAndGlyphs">1</text>
<text x="236.81" y="316.80" font-size="6.9" fill="#231f20" stroke="#231f20" stroke-width="0.2" textLength="3.30" lengthAdjust="spacingAndGlyphs">2</text>
<text x="250.71" y="316.80" font-size="6.9" fill="#231f20" stroke="#231f20" stroke-width="0.2" textLength="3.30" lengthAdjust="spacingAndGlyphs">3</text>
<text x="264.59" y="316.80" font-size="6.9" fill="#231f20" stroke="#231f20" stroke-width="0.2" textLength="3.30" lengthAdjust="spacingAndGlyphs">4</text>
<text x="278.45" y="316.80" font-size="6.9" fill="#231f20" stroke="#231f20" stroke-width="0.2" textLength="3.30" lengthAdjust="spacingAndGlyphs">5</text>
<text x="292.31" y="316.80" font-size="6.9" fill="#231f20" stroke="#231f20" stroke-width="0.2" textLength="3.30" lengthAdjust="spacingAndGlyphs">6</text>
<text x="306.21" y="316.80" font-size="6.9" fill="#231f20" stroke="#231f20" stroke-width="0.2" textLength="3.30" lengthAdjust="spacingAndGlyphs">7</text>
<text x="320.09" y="316.80" font-size="6.9" fill="#231f20" stroke="#231f20" stroke-width="0.2" textLength="3.30" lengthAdjust="spacingAndGlyphs">8</text>
<text x="333.97" y="316.80" font-size="6.9" fill="#231f20" stroke="#231f20" stroke-width="0.2" textLength="3.30" lengthAdjust="spacingAndGlyphs">9</text>
<text x="242.95" y="328.60" font-size="8.6" fill="#231f20" stroke="#231f20" stroke-width="0.05" textLength="63.49" lengthAdjust="spacingAndGlyphs">Years from transplant</text>
<text transform="translate(188.90,282.68) rotate(-90)" font-size="9.0" stroke="#231f20" stroke-width="0.05" textLength="46.16" lengthAdjust="spacingAndGlyphs">Percent survival</text>
<text x="234.92" y="227.40" font-size="7.0" fill="#3d5a98" textLength="13.11" lengthAdjust="spacingAndGlyphs">84%</text>
<text x="234.94" y="254.10" font-size="7.0" fill="#74b94c" textLength="12.78" lengthAdjust="spacingAndGlyphs">56%</text>
<text x="234.87" y="283.60" font-size="7.0" fill="#bb2550" textLength="13.16" lengthAdjust="spacingAndGlyphs">22%</text>
<text x="213.20" y="303.20" font-size="6.6" fill="#231f20" stroke="#231f20" stroke-width="0.08" textLength="26.51" lengthAdjust="spacingAndGlyphs">p&lt;0.0001</text>
<text x="284.60" y="280.60" font-size="6.9" fill="#231f20" stroke="#231f20" stroke-width="0.08" textLength="34.18" lengthAdjust="spacingAndGlyphs">BM STATUS</text>
<text x="293.26" y="288.10" font-size="6.9" fill="#231f20" stroke="#231f20" stroke-width="0.08" textLength="31.08" lengthAdjust="spacingAndGlyphs">NEG n=37</text>
<text x="293.27" y="295.60" font-size="6.9" fill="#231f20" stroke="#231f20" stroke-width="0.08" textLength="31.26" lengthAdjust="spacingAndGlyphs">LOW n=32</text>
<text x="293.29" y="303.10" font-size="6.9" fill="#231f20" stroke="#231f20" stroke-width="0.08" textLength="28.01" lengthAdjust="spacingAndGlyphs">HIGH n=9</text>
<text x="211.76" y="209.40" font-size="6.6" fill="#231f20" textLength="108.77" lengthAdjust="spacingAndGlyphs">Bone Marrow Threshold: 1000 copies</text>
<text x="183.81" y="195.20" font-size="12" fill="#000" stroke="#000" stroke-width="0.35" font-weight="bold" textLength="7.00" lengthAdjust="spacingAndGlyphs">E</text>
<text x="375.83" y="307.50" font-size="6.9" fill="#231f20" stroke="#231f20" stroke-width="0.2" textLength="3.30" lengthAdjust="spacingAndGlyphs">0</text>
<text x="372.53" y="298.77" font-size="6.9" fill="#231f20" stroke="#231f20" stroke-width="0.2" textLength="6.60" lengthAdjust="spacingAndGlyphs">10</text>
<text x="372.53" y="290.04" font-size="6.9" fill="#231f20" stroke="#231f20" stroke-width="0.2" textLength="6.60" lengthAdjust="spacingAndGlyphs">20</text>
<text x="372.53" y="281.31" font-size="6.9" fill="#231f20" stroke="#231f20" stroke-width="0.2" textLength="6.60" lengthAdjust="spacingAndGlyphs">30</text>
<text x="372.53" y="272.58" font-size="6.9" fill="#231f20" stroke="#231f20" stroke-width="0.2" textLength="6.60" lengthAdjust="spacingAndGlyphs">40</text>
<text x="372.53" y="263.85" font-size="6.9" fill="#231f20" stroke="#231f20" stroke-width="0.2" textLength="6.60" lengthAdjust="spacingAndGlyphs">50</text>
<text x="372.53" y="255.12" font-size="6.9" fill="#231f20" stroke="#231f20" stroke-width="0.2" textLength="6.60" lengthAdjust="spacingAndGlyphs">60</text>
<text x="372.53" y="246.39" font-size="6.9" fill="#231f20" stroke="#231f20" stroke-width="0.2" textLength="6.60" lengthAdjust="spacingAndGlyphs">70</text>
<text x="372.53" y="237.66" font-size="6.9" fill="#231f20" stroke="#231f20" stroke-width="0.2" textLength="6.60" lengthAdjust="spacingAndGlyphs">80</text>
<text x="372.53" y="228.93" font-size="6.9" fill="#231f20" stroke="#231f20" stroke-width="0.2" textLength="6.60" lengthAdjust="spacingAndGlyphs">90</text>
<text x="369.23" y="220.20" font-size="6.9" fill="#231f20" stroke="#231f20" stroke-width="0.2" textLength="9.90" lengthAdjust="spacingAndGlyphs">100</text>
<text x="383.25" y="316.80" font-size="6.9" fill="#231f20" stroke="#231f20" stroke-width="0.2" textLength="3.30" lengthAdjust="spacingAndGlyphs">0</text>
<text x="397.05" y="316.80" font-size="6.9" fill="#231f20" stroke="#231f20" stroke-width="0.2" textLength="3.30" lengthAdjust="spacingAndGlyphs">1</text>
<text x="411.01" y="316.80" font-size="6.9" fill="#231f20" stroke="#231f20" stroke-width="0.2" textLength="3.30" lengthAdjust="spacingAndGlyphs">2</text>
<text x="424.91" y="316.80" font-size="6.9" fill="#231f20" stroke="#231f20" stroke-width="0.2" textLength="3.30" lengthAdjust="spacingAndGlyphs">3</text>
<text x="438.79" y="316.80" font-size="6.9" fill="#231f20" stroke="#231f20" stroke-width="0.2" textLength="3.30" lengthAdjust="spacingAndGlyphs">4</text>
<text x="452.65" y="316.80" font-size="6.9" fill="#231f20" stroke="#231f20" stroke-width="0.2" textLength="3.30" lengthAdjust="spacingAndGlyphs">5</text>
<text x="466.51" y="316.80" font-size="6.9" fill="#231f20" stroke="#231f20" stroke-width="0.2" textLength="3.30" lengthAdjust="spacingAndGlyphs">6</text>
<text x="480.41" y="316.80" font-size="6.9" fill="#231f20" stroke="#231f20" stroke-width="0.2" textLength="3.30" lengthAdjust="spacingAndGlyphs">7</text>
<text x="494.29" y="316.80" font-size="6.9" fill="#231f20" stroke="#231f20" stroke-width="0.2" textLength="3.30" lengthAdjust="spacingAndGlyphs">8</text>
<text x="508.17" y="316.80" font-size="6.9" fill="#231f20" stroke="#231f20" stroke-width="0.2" textLength="3.30" lengthAdjust="spacingAndGlyphs">9</text>
<text x="417.20" y="328.60" font-size="8.6" fill="#231f20" stroke="#231f20" stroke-width="0.05" textLength="63.49" lengthAdjust="spacingAndGlyphs">Years from transplant</text>
<text transform="translate(363.10,282.68) rotate(-90)" font-size="9.0" stroke="#231f20" stroke-width="0.05" textLength="46.16" lengthAdjust="spacingAndGlyphs">Percent survival</text>
<text x="409.61" y="225.00" font-size="7.0" fill="#3d5a98" textLength="13.32" lengthAdjust="spacingAndGlyphs">83%</text>
<text x="409.57" y="247.70" font-size="7.0" fill="#74b94c" textLength="13.16" lengthAdjust="spacingAndGlyphs">63%</text>
<text x="410.03" y="291.00" font-size="6.8" fill="#bb2550" textLength="12.50" lengthAdjust="spacingAndGlyphs">13%</text>
<text x="387.20" y="303.20" font-size="6.6" fill="#231f20" stroke="#231f20" stroke-width="0.08" textLength="26.51" lengthAdjust="spacingAndGlyphs">p&lt;0.0001</text>
<text x="464.10" y="280.60" font-size="6.9" fill="#231f20" stroke="#231f20" stroke-width="0.08" textLength="38.77" lengthAdjust="spacingAndGlyphs">MRD STATUS</text>
<text x="472.76" y="288.10" font-size="6.9" fill="#231f20" stroke="#231f20" stroke-width="0.08" textLength="30.82" lengthAdjust="spacingAndGlyphs">NEG n=58</text>
<text x="472.76" y="295.60" font-size="6.9" fill="#231f20" stroke="#231f20" stroke-width="0.08" textLength="31.38" lengthAdjust="spacingAndGlyphs">LOW n=30</text>
<text x="472.76" y="303.10" font-size="6.9" fill="#231f20" stroke="#231f20" stroke-width="0.08" textLength="32.84" lengthAdjust="spacingAndGlyphs">HIGH n=19</text>
<text x="432.16" y="209.40" font-size="6.8" fill="#231f20">Combined</text>
<text x="355.97" y="195.20" font-size="12" fill="#000" stroke="#000" stroke-width="0.35" font-weight="bold" textLength="6.72" lengthAdjust="spacingAndGlyphs">F</text>
<text x="7.09" y="339.50" font-size="7.0" fill="#231f20" stroke="#231f20" stroke-width="0.16" textLength="20.21" lengthAdjust="spacingAndGlyphs">At risk:</text>
<text x="6.54" y="349.60" font-size="7.0" fill="#231f20" stroke="#231f20" stroke-width="0.16" textLength="12.61" lengthAdjust="spacingAndGlyphs">Neg</text>
<text x="6.57" y="359.50" font-size="7.0" fill="#231f20" stroke="#231f20" stroke-width="0.16" textLength="11.92" lengthAdjust="spacingAndGlyphs">Low</text>
<text x="6.55" y="369.60" font-size="7.0" fill="#231f20" stroke="#231f20" stroke-width="0.16" textLength="13.78" lengthAdjust="spacingAndGlyphs">High</text>
<text x="34.27" y="349.20" font-size="7.0" fill="#231f20" stroke="#231f20" stroke-width="0.2" textLength="7.01" lengthAdjust="spacingAndGlyphs">73</text>
<text x="48.16" y="349.20" font-size="7.0" fill="#231f20" stroke="#231f20" stroke-width="0.2" textLength="7.01" lengthAdjust="spacingAndGlyphs">63</text>
<text x="62.07" y="349.20" font-size="7.0" fill="#231f20" stroke="#231f20" stroke-width="0.2" textLength="7.01" lengthAdjust="spacingAndGlyphs">56</text>
<text x="76.00" y="349.20" font-size="7.0" fill="#231f20" stroke="#231f20" stroke-width="0.2" textLength="7.01" lengthAdjust="spacingAndGlyphs">48</text>
<text x="89.91" y="349.20" font-size="7.0" fill="#231f20" stroke="#231f20" stroke-width="0.2" textLength="7.01" lengthAdjust="spacingAndGlyphs">42</text>
<text x="103.70" y="349.20" font-size="7.0" fill="#231f20" stroke="#231f20" stroke-width="0.2" textLength="7.01" lengthAdjust="spacingAndGlyphs">27</text>
<text x="117.47" y="349.20" font-size="7.0" fill="#231f20" stroke="#231f20" stroke-width="0.2" textLength="7.01" lengthAdjust="spacingAndGlyphs">15</text>
<text x="133.19" y="349.20" font-size="7.0" fill="#231f20" stroke="#231f20" stroke-width="0.2" textLength="3.50" lengthAdjust="spacingAndGlyphs">6</text>
<text x="147.00" y="349.20" font-size="7.0" fill="#231f20" stroke="#231f20" stroke-width="0.2" textLength="3.50" lengthAdjust="spacingAndGlyphs">1</text>
<text x="160.97" y="349.20" font-size="7.0" fill="#231f20" stroke="#231f20" stroke-width="0.2" textLength="3.50" lengthAdjust="spacingAndGlyphs">0</text>
<text x="34.19" y="359.20" font-size="7.0" fill="#231f20" stroke="#231f20" stroke-width="0.2" textLength="7.01" lengthAdjust="spacingAndGlyphs">13</text>
<text x="49.93" y="359.20" font-size="7.0" fill="#231f20" stroke="#231f20" stroke-width="0.2" textLength="3.50" lengthAdjust="spacingAndGlyphs">7</text>
<text x="63.81" y="359.20" font-size="7.0" fill="#231f20" stroke="#231f20" stroke-width="0.2" textLength="3.50" lengthAdjust="spacingAndGlyphs">7</text>
<text x="77.69" y="359.20" font-size="7.0" fill="#231f20" stroke="#231f20" stroke-width="0.2" textLength="3.50" lengthAdjust="spacingAndGlyphs">7</text>
<text x="91.55" y="359.20" font-size="7.0" fill="#231f20" stroke="#231f20" stroke-width="0.2" textLength="3.50" lengthAdjust="spacingAndGlyphs">6</text>
<text x="105.46" y="359.20" font-size="7.0" fill="#231f20" stroke="#231f20" stroke-width="0.2" textLength="3.50" lengthAdjust="spacingAndGlyphs">3</text>
<text x="119.24" y="359.20" font-size="7.0" fill="#231f20" stroke="#231f20" stroke-width="0.2" textLength="3.50" lengthAdjust="spacingAndGlyphs">1</text>
<text x="133.12" y="359.20" font-size="7.0" fill="#231f20" stroke="#231f20" stroke-width="0.2" textLength="3.50" lengthAdjust="spacingAndGlyphs">1</text>
<text x="147.09" y="359.20" font-size="7.0" fill="#231f20" stroke="#231f20" stroke-width="0.2" textLength="3.50" lengthAdjust="spacingAndGlyphs">0</text>
<text x="160.97" y="359.20" font-size="7.0" fill="#231f20" stroke="#231f20" stroke-width="0.2" textLength="3.50" lengthAdjust="spacingAndGlyphs">0</text>
<text x="34.22" y="369.20" font-size="7.0" fill="#231f20" stroke="#231f20" stroke-width="0.2" textLength="7.01" lengthAdjust="spacingAndGlyphs">17</text>
<text x="49.95" y="369.20" font-size="7.0" fill="#231f20" stroke="#231f20" stroke-width="0.2" textLength="3.50" lengthAdjust="spacingAndGlyphs">4</text>
<text x="63.81" y="369.20" font-size="7.0" fill="#231f20" stroke="#231f20" stroke-width="0.2" textLength="3.50" lengthAdjust="spacingAndGlyphs">2</text>
<text x="77.60" y="369.20" font-size="7.0" fill="#231f20" stroke="#231f20" stroke-width="0.2" textLength="3.50" lengthAdjust="spacingAndGlyphs">1</text>
<text x="91.48" y="369.20" font-size="7.0" fill="#231f20" stroke="#231f20" stroke-width="0.2" textLength="3.50" lengthAdjust="spacingAndGlyphs">1</text>
<text x="105.36" y="369.20" font-size="7.0" fill="#231f20" stroke="#231f20" stroke-width="0.2" textLength="3.50" lengthAdjust="spacingAndGlyphs">1</text>
<text x="119.33" y="369.20" font-size="7.0" fill="#231f20" stroke="#231f20" stroke-width="0.2" textLength="3.50" lengthAdjust="spacingAndGlyphs">0</text>
<text x="133.21" y="369.20" font-size="7.0" fill="#231f20" stroke="#231f20" stroke-width="0.2" textLength="3.50" lengthAdjust="spacingAndGlyphs">0</text>
<text x="147.09" y="369.20" font-size="7.0" fill="#231f20" stroke="#231f20" stroke-width="0.2" textLength="3.50" lengthAdjust="spacingAndGlyphs">0</text>
<text x="160.97" y="369.20" font-size="7.0" fill="#231f20" stroke="#231f20" stroke-width="0.2" textLength="3.50" lengthAdjust="spacingAndGlyphs">0</text>
<text x="207.13" y="349.20" font-size="7.0" fill="#231f20" stroke="#231f20" stroke-width="0.2" textLength="7.01" lengthAdjust="spacingAndGlyphs">37</text>
<text x="221.01" y="349.20" font-size="7.0" fill="#231f20" stroke="#231f20" stroke-width="0.2" textLength="7.01" lengthAdjust="spacingAndGlyphs">32</text>
<text x="234.86" y="349.20" font-size="7.0" fill="#231f20" stroke="#231f20" stroke-width="0.2" textLength="7.01" lengthAdjust="spacingAndGlyphs">30</text>
<text x="248.67" y="349.20" font-size="7.0" fill="#231f20" stroke="#231f20" stroke-width="0.2" textLength="7.01" lengthAdjust="spacingAndGlyphs">24</text>
<text x="262.58" y="349.20" font-size="7.0" fill="#231f20" stroke="#231f20" stroke-width="0.2" textLength="7.01" lengthAdjust="spacingAndGlyphs">20</text>
<text x="276.42" y="349.20" font-size="7.0" fill="#231f20" stroke="#231f20" stroke-width="0.2" textLength="7.01" lengthAdjust="spacingAndGlyphs">12</text>
<text x="292.13" y="349.20" font-size="7.0" fill="#231f20" stroke="#231f20" stroke-width="0.2" textLength="3.50" lengthAdjust="spacingAndGlyphs">5</text>
<text x="305.92" y="349.20" font-size="7.0" fill="#231f20" stroke="#231f20" stroke-width="0.2" textLength="3.50" lengthAdjust="spacingAndGlyphs">1</text>
<text x="319.89" y="349.20" font-size="7.0" fill="#231f20" stroke="#231f20" stroke-width="0.2" textLength="3.50" lengthAdjust="spacingAndGlyphs">0</text>
<text x="333.77" y="349.20" font-size="7.0" fill="#231f20" stroke="#231f20" stroke-width="0.2" textLength="3.50" lengthAdjust="spacingAndGlyphs">0</text>
<text x="207.13" y="359.20" font-size="7.0" fill="#231f20" stroke="#231f20" stroke-width="0.2" textLength="7.01" lengthAdjust="spacingAndGlyphs">32</text>
<text x="220.89" y="359.20" font-size="7.0" fill="#231f20" stroke="#231f20" stroke-width="0.2" textLength="7.01" lengthAdjust="spacingAndGlyphs">19</text>
<text x="234.75" y="359.20" font-size="7.0" fill="#231f20" stroke="#231f20" stroke-width="0.2" textLength="7.01" lengthAdjust="spacingAndGlyphs">18</text>
<text x="248.63" y="359.20" font-size="7.0" fill="#231f20" stroke="#231f20" stroke-width="0.2" textLength="7.01" lengthAdjust="spacingAndGlyphs">16</text>
<text x="262.47" y="359.20" font-size="7.0" fill="#231f20" stroke="#231f20" stroke-width="0.2" textLength="7.01" lengthAdjust="spacingAndGlyphs">14</text>
<text x="278.25" y="359.20" font-size="7.0" fill="#231f20" stroke="#231f20" stroke-width="0.2" textLength="3.50" lengthAdjust="spacingAndGlyphs">7</text>
<text x="292.13" y="359.20" font-size="7.0" fill="#231f20" stroke="#231f20" stroke-width="0.2" textLength="3.50" lengthAdjust="spacingAndGlyphs">2</text>
<text x="306.01" y="359.20" font-size="7.0" fill="#231f20" stroke="#231f20" stroke-width="0.2" textLength="3.50" lengthAdjust="spacingAndGlyphs">2</text>
<text x="319.89" y="359.20" font-size="7.0" fill="#231f20" stroke="#231f20" stroke-width="0.2" textLength="3.50" lengthAdjust="spacingAndGlyphs">0</text>
<text x="333.77" y="359.20" font-size="7.0" fill="#231f20" stroke="#231f20" stroke-width="0.2" textLength="3.50" lengthAdjust="spacingAndGlyphs">0</text>
<text x="208.85" y="369.20" font-size="7.0" fill="#231f20" stroke="#231f20" stroke-width="0.2" textLength="3.50" lengthAdjust="spacingAndGlyphs">9</text>
<text x="222.73" y="369.20" font-size="7.0" fill="#231f20" stroke="#231f20" stroke-width="0.2" textLength="3.50" lengthAdjust="spacingAndGlyphs">2</text>
<text x="236.52" y="369.20" font-size="7.0" fill="#231f20" stroke="#231f20" stroke-width="0.2" textLength="3.50" lengthAdjust="spacingAndGlyphs">1</text>
<text x="250.49" y="369.20" font-size="7.0" fill="#231f20" stroke="#231f20" stroke-width="0.2" textLength="3.50" lengthAdjust="spacingAndGlyphs">0</text>
<text x="264.37" y="369.20" font-size="7.0" fill="#231f20" stroke="#231f20" stroke-width="0.2" textLength="3.50" lengthAdjust="spacingAndGlyphs">0</text>
<text x="278.25" y="369.20" font-size="7.0" fill="#231f20" stroke="#231f20" stroke-width="0.2" textLength="3.50" lengthAdjust="spacingAndGlyphs">0</text>
<text x="292.13" y="369.20" font-size="7.0" fill="#231f20" stroke="#231f20" stroke-width="0.2" textLength="3.50" lengthAdjust="spacingAndGlyphs">0</text>
<text x="306.01" y="369.20" font-size="7.0" fill="#231f20" stroke="#231f20" stroke-width="0.2" textLength="3.50" lengthAdjust="spacingAndGlyphs">0</text>
<text x="319.89" y="369.20" font-size="7.0" fill="#231f20" stroke="#231f20" stroke-width="0.2" textLength="3.50" lengthAdjust="spacingAndGlyphs">0</text>
<text x="333.77" y="369.20" font-size="7.0" fill="#231f20" stroke="#231f20" stroke-width="0.2" textLength="3.50" lengthAdjust="spacingAndGlyphs">0</text>
<text x="381.31" y="349.20" font-size="7.0" fill="#231f20" stroke="#231f20" stroke-width="0.2" textLength="7.01" lengthAdjust="spacingAndGlyphs">58</text>
<text x="395.21" y="349.20" font-size="7.0" fill="#231f20" stroke="#231f20" stroke-width="0.2" textLength="7.01" lengthAdjust="spacingAndGlyphs">52</text>
<text x="409.12" y="349.20" font-size="7.0" fill="#231f20" stroke="#231f20" stroke-width="0.2" textLength="7.01" lengthAdjust="spacingAndGlyphs">46</text>
<text x="422.97" y="349.20" font-size="7.0" fill="#231f20" stroke="#231f20" stroke-width="0.2" textLength="7.01" lengthAdjust="spacingAndGlyphs">39</text>
<text x="436.79" y="349.20" font-size="7.0" fill="#231f20" stroke="#231f20" stroke-width="0.2" textLength="7.01" lengthAdjust="spacingAndGlyphs">34</text>
<text x="450.63" y="349.20" font-size="7.0" fill="#231f20" stroke="#231f20" stroke-width="0.2" textLength="7.01" lengthAdjust="spacingAndGlyphs">24</text>
<text x="464.47" y="349.20" font-size="7.0" fill="#231f20" stroke="#231f20" stroke-width="0.2" textLength="7.01" lengthAdjust="spacingAndGlyphs">15</text>
<text x="480.19" y="349.20" font-size="7.0" fill="#231f20" stroke="#231f20" stroke-width="0.2" textLength="3.50" lengthAdjust="spacingAndGlyphs">6</text>
<text x="494.00" y="349.20" font-size="7.0" fill="#231f20" stroke="#231f20" stroke-width="0.2" textLength="3.50" lengthAdjust="spacingAndGlyphs">1</text>
<text x="507.97" y="349.20" font-size="7.0" fill="#231f20" stroke="#231f20" stroke-width="0.2" textLength="3.50" lengthAdjust="spacingAndGlyphs">0</text>
<text x="381.30" y="359.20" font-size="7.0" fill="#231f20" stroke="#231f20" stroke-width="0.2" textLength="7.01" lengthAdjust="spacingAndGlyphs">30</text>
<text x="395.09" y="359.20" font-size="7.0" fill="#231f20" stroke="#231f20" stroke-width="0.2" textLength="7.01" lengthAdjust="spacingAndGlyphs">19</text>
<text x="408.97" y="359.20" font-size="7.0" fill="#231f20" stroke="#231f20" stroke-width="0.2" textLength="7.01" lengthAdjust="spacingAndGlyphs">19</text>
<text x="422.86" y="359.20" font-size="7.0" fill="#231f20" stroke="#231f20" stroke-width="0.2" textLength="7.01" lengthAdjust="spacingAndGlyphs">17</text>
<text x="436.71" y="359.20" font-size="7.0" fill="#231f20" stroke="#231f20" stroke-width="0.2" textLength="7.01" lengthAdjust="spacingAndGlyphs">15</text>
<text x="452.45" y="359.20" font-size="7.0" fill="#231f20" stroke="#231f20" stroke-width="0.2" textLength="3.50" lengthAdjust="spacingAndGlyphs">7</text>
<text x="466.33" y="359.20" font-size="7.0" fill="#231f20" stroke="#231f20" stroke-width="0.2" textLength="3.50" lengthAdjust="spacingAndGlyphs">2</text>
<text x="480.21" y="359.20" font-size="7.0" fill="#231f20" stroke="#231f20" stroke-width="0.2" textLength="3.50" lengthAdjust="spacingAndGlyphs">2</text>
<text x="494.09" y="359.20" font-size="7.0" fill="#231f20" stroke="#231f20" stroke-width="0.2" textLength="3.50" lengthAdjust="spacingAndGlyphs">0</text>
<text x="507.97" y="359.20" font-size="7.0" fill="#231f20" stroke="#231f20" stroke-width="0.2" textLength="3.50" lengthAdjust="spacingAndGlyphs">0</text>
<text x="381.21" y="369.20" font-size="7.0" fill="#231f20" stroke="#231f20" stroke-width="0.2" textLength="7.01" lengthAdjust="spacingAndGlyphs">19</text>
<text x="396.93" y="369.20" font-size="7.0" fill="#231f20" stroke="#231f20" stroke-width="0.2" textLength="3.50" lengthAdjust="spacingAndGlyphs">5</text>
<text x="410.81" y="369.20" font-size="7.0" fill="#231f20" stroke="#231f20" stroke-width="0.2" textLength="3.50" lengthAdjust="spacingAndGlyphs">2</text>
<text x="424.60" y="369.20" font-size="7.0" fill="#231f20" stroke="#231f20" stroke-width="0.2" textLength="3.50" lengthAdjust="spacingAndGlyphs">1</text>
<text x="438.48" y="369.20" font-size="7.0" fill="#231f20" stroke="#231f20" stroke-width="0.2" textLength="3.50" lengthAdjust="spacingAndGlyphs">1</text>
<text x="452.36" y="369.20" font-size="7.0" fill="#231f20" stroke="#231f20" stroke-width="0.2" textLength="3.50" lengthAdjust="spacingAndGlyphs">1</text>
<text x="466.33" y="369.20" font-size="7.0" fill="#231f20" stroke="#231f20" stroke-width="0.2" textLength="3.50" lengthAdjust="spacingAndGlyphs">0</text>
<text x="480.21" y="369.20" font-size="7.0" fill="#231f20" stroke="#231f20" stroke-width="0.2" textLength="3.50" lengthAdjust="spacingAndGlyphs">0</text>
<text x="494.09" y="369.20" font-size="7.0" fill="#231f20" stroke="#231f20" stroke-width="0.2" textLength="3.50" lengthAdjust="spacingAndGlyphs">0</text>
<text x="507.97" y="369.20" font-size="7.0" fill="#231f20" stroke="#231f20" stroke-width="0.2" textLength="3.50" lengthAdjust="spacingAndGlyphs">0</text>
<rect x="0.5" y="0.5" width="519" height="377" fill="none" stroke="#000" stroke-width="1"/>
</svg>
</body></html>
